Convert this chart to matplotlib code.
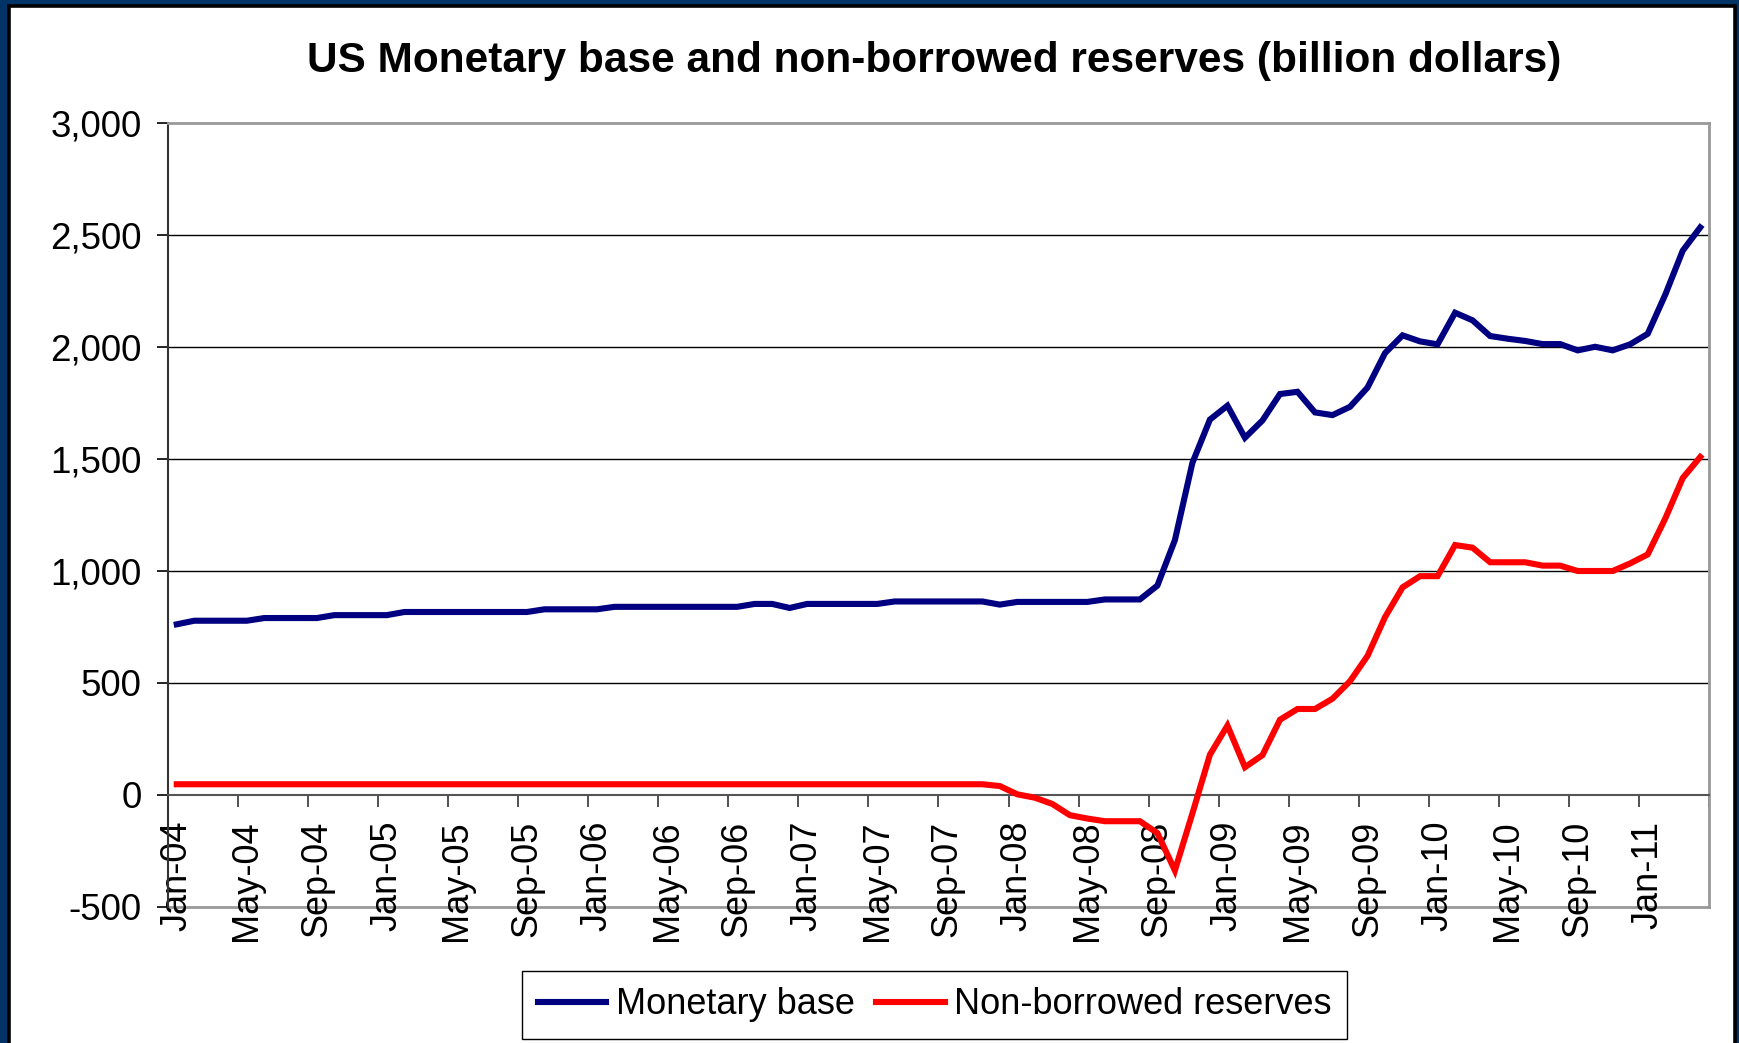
"""
US monetary base and non-borrowed reserves, monthly, Jan 2004 - Apr 2011
"""
import numpy as np
import matplotlib
matplotlib.use("Agg")
import matplotlib.pyplot as plt
from matplotlib.patches import Rectangle
from matplotlib.ticker import FixedLocator, FuncFormatter

NAVY = "#003366"
BASE_COLOR = "#000080"
RESERVES_COLOR = "#ff0000"

# monthly values, billion dollars (Jan-04 .. Apr-11)
monetary_base = [
    762, 778, 778, 778, 778, 790, 790, 790, 790, 803, 803, 803,           # 2004
    803, 817, 817, 817, 817, 817, 817, 817, 817, 829, 829, 829,           # 2005
    829, 840, 840, 840, 840, 840, 840, 840, 840, 853, 853, 835,           # 2006
    853, 853, 853, 853, 853, 864, 864, 864, 864, 864, 864, 850,           # 2007
    862, 862, 862, 862, 862, 873, 873, 873, 935, 1138, 1483, 1676,        # 2008
    1738, 1595, 1672, 1790, 1800, 1708, 1696, 1733, 1819, 1973, 2052, 2025,  # 2009
    2012, 2153, 2119, 2049, 2037, 2027, 2013, 2013, 1985, 2001, 1985, 2012,  # 2010
    2059, 2233, 2430, 2534,                                               # 2011
]

non_borrowed_reserves = [
    48, 48, 48, 48, 48, 48, 48, 48, 48, 48, 48, 48,                       # 2004
    48, 48, 48, 48, 48, 48, 48, 48, 48, 48, 48, 48,                       # 2005
    48, 48, 48, 48, 48, 48, 48, 48, 48, 48, 48, 48,                       # 2006
    48, 48, 48, 48, 48, 48, 48, 48, 48, 48, 48, 40,                       # 2007
    3, -12, -40, -90, -105, -117, -117, -117, -170, -337, -82, 180,       # 2008
    310, 124, 178, 336, 384, 384, 430, 508, 621, 794, 927, 977,           # 2009
    977, 1116, 1104, 1039, 1039, 1039, 1024, 1024, 1000, 1000, 1000, 1034,  # 2010
    1074, 1234, 1415, 1509,                                               # 2011
]

# every fourth month gets a label
tick_labels = [
    "Jan-04", "May-04", "Sep-04", "Jan-05", "May-05", "Sep-05",
    "Jan-06", "May-06", "Sep-06", "Jan-07", "May-07", "Sep-07",
    "Jan-08", "May-08", "Sep-08", "Jan-09", "May-09", "Sep-09",
    "Jan-10", "May-10", "Sep-10", "Jan-11",
]

y_ticks = [-500, 0, 500, 1000, 1500, 2000, 2500, 3000]


def draw_frame(fig):
    # navy slide background with a white panel and thin black edge
    panel = Rectangle((9 / 1739, -0.05), (1735 - 9) / 1739, 1.05 - 5.5 / 1043,
                      transform=fig.transFigure, facecolor="white",
                      edgecolor="black", linewidth=2.6, zorder=-5)
    fig.patches.append(panel)


def make_plot(out_file):
    plt.rcParams["font.family"] = ["Liberation Sans", "DejaVu Sans"]

    fig = plt.figure(figsize=(17.39, 10.43), dpi=100, facecolor=NAVY)
    draw_frame(fig)

    ax = fig.add_axes([168 / 1739, 1 - 907 / 1043, (1709 - 168) / 1739, (907 - 123) / 1043])
    ax.set_zorder(2)
    ax.set_facecolor("white")

    n = len(monetary_base)
    x = np.arange(n)
    ax.plot(x, monetary_base, color=BASE_COLOR, lw=4.4, label="Monetary base",
            solid_joinstyle="miter", zorder=3)
    ax.plot(x, non_borrowed_reserves, color=RESERVES_COLOR, lw=4.4,
            label="Non-borrowed reserves", solid_joinstyle="miter", zorder=3)

    ax.set_xlim(-0.5, n - 0.5)
    ax.set_ylim(-500, 3000)

    # y axis
    ax.yaxis.set_major_locator(FixedLocator(y_ticks))
    ax.yaxis.set_major_formatter(FuncFormatter(lambda v, _: f"{v:,.0f}"))
    ax.tick_params(axis="y", direction="out", length=8, width=1.2,
                   color="black", pad=11, labelsize=26.5)
    for val in y_ticks[2:-1]:
        ax.axhline(val, color="black", lw=1.0, zorder=1)

    # category axis crossing at zero, tick marks between slots
    ax.spines["bottom"].set_position(("data", 0))
    ax.spines["bottom"].set_color("#555555")
    ax.spines["bottom"].set_linewidth(1.5)
    ax.xaxis.set_major_locator(FixedLocator(np.arange(-0.5, n, 4)))
    ax.xaxis.set_major_formatter(FuncFormatter(lambda v, _: ""))
    ax.xaxis.set_minor_locator(FixedLocator(np.arange(0, 4 * len(tick_labels), 4)))
    ax.set_xticklabels(tick_labels, minor=True)
    ax.tick_params(axis="x", which="major", direction="out", length=8.5,
                   width=1.2, color="#333333")
    ax.tick_params(axis="x", which="minor", length=0, pad=18.5,
                   labelsize=26, labelrotation=90)

    # plot area border
    ax.spines["left"].set_color("#333333")
    ax.spines["left"].set_linewidth(1.5)
    for side in ["top", "right"]:
        ax.spines[side].set_color("#999999")
        ax.spines[side].set_linewidth(2.0)
    ax.axhline(-500, color="#999999", lw=2.0, clip_on=False, zorder=1)

    fig.text(0.537, 1 - 61 / 1043,
             "US Monetary base and non-borrowed reserves (billion dollars)",
             ha="center", va="center", fontsize=30.5, fontweight="bold")

    leg = fig.legend(loc="center", bbox_to_anchor=(0.5374, 1 - 1005 / 1043),
                     ncol=2, fontsize=26, frameon=True, fancybox=False,
                     edgecolor="black", framealpha=1, handlelength=1.9,
                     handletextpad=0.25, columnspacing=0.6, borderpad=0.45)
    leg.get_frame().set_linewidth(1.0)
    leg.set_zorder(3)

    fig.savefig(out_file, dpi=100, facecolor=fig.get_facecolor())
    plt.close(fig)


def main():
    make_plot("out.png")
    return 0


if __name__ == "__main__":
    main()
